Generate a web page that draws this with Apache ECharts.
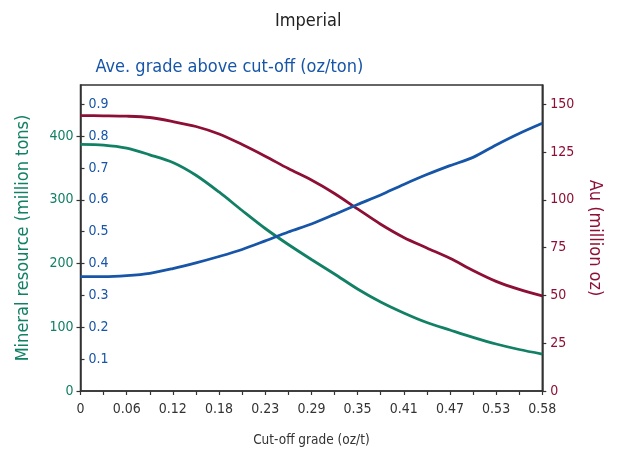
<!DOCTYPE html>
<html>
<head>
<meta charset="utf-8">
<script src="https://cdn.jsdelivr.net/npm/echarts@6/dist/echarts.min.js"></script>
<style>
html,body{margin:0;padding:0;background:#fff;}
#chart{width:619px;height:455px;}
</style>
</head>
<body>
<div id="chart"></div>
<script>
// Cut-off grade positions (oz/t), 21 steps; labels at every second one
const cutoffCategories = ['0','0.03','0.06','0.09','0.12','0.15','0.18','0.20','0.23','0.26','0.29','0.32','0.35','0.38','0.41','0.44','0.47','0.50','0.53','0.55','0.58'];
const xTickLabels = ['0','0.06','0.12','0.18','0.23','0.29','0.35','0.41','0.47','0.53','0.58'];
const tonsTicks = [0,100,200,300,400];
const gradeTicks = [0.1,0.2,0.3,0.4,0.5,0.6,0.7,0.8,0.9];
const auTicks = [0,25,50,75,100,125,150];

// Mineral resource (million tons)
const tonnage = [387,385.8,381,370.5,358.5,338.5,312.2,283.1,254.9,229.8,206.3,183.5,160,139.6,122.4,107.4,95.7,84.2,73.7,65.1,58];
// Au (million oz)
const gold = [144,143.9,143.7,143,140.9,138.3,134.4,128.9,122.8,116.3,110.3,103.3,95.2,87.2,80.3,74.8,69.4,63,57.3,53.1,49.7];
// Average grade above cut-off (oz/ton)
const avgGrade = [0.359,0.359,0.362,0.369,0.384,0.402,0.422,0.444,0.471,0.499,0.524,0.554,0.585,0.615,0.648,0.679,0.707,0.733,0.772,0.808,0.840];

const GREEN = '#118065';
const RED = '#8e0f36';
const BLUE = '#1655a8';
const DARK = '#333333';
const FONT = "'DejaVu Sans Condensed', 'Liberation Sans', sans-serif";

const chart = echarts.init(document.getElementById('chart'), null, {renderer: 'canvas'});
chart.setOption({
  animation: false,
  backgroundColor: '#fff',
  textStyle: {fontFamily: FONT},
  title: {
    text: 'Imperial',
    left: 270, top: 7,
    textStyle: {fontFamily: FONT, fontSize: 18, fontWeight: 'normal', color: '#222'}
  },
  grid: {
    left: 80.5, right: 76.7, top: 85, bottom: 64,
    show: true, borderColor: DARK, borderWidth: 1.5, backgroundColor: 'transparent'
  },
  xAxis: {
    type: 'category',
    data: cutoffCategories,
    boundaryGap: false,
    axisLine: {lineStyle: {color: DARK, width: 1.5}},
    axisTick: {interval: 0, length: 4, lineStyle: {color: DARK, width: 1.2}},
    axisLabel: {
      interval: 0, margin: 11, color: DARK, fontSize: 14, fontFamily: FONT,
      formatter: function (v, i) { return i % 2 === 0 ? xTickLabels[i / 2] : ''; }
    },
    splitLine: {show: false},
    name: 'Cut-off grade (oz/t)',
    nameLocation: 'middle',
    nameGap: 42,
    nameTextStyle: {color: DARK, fontSize: 13.5, fontFamily: FONT}
  },
  yAxis: [
    {
      type: 'value', position: 'left', min: 0, max: 480,
      axisLine: {show: true, lineStyle: {color: DARK, width: 1.5}},
      axisTick: {show: true, length: 4, customValues: tonsTicks, lineStyle: {color: DARK, width: 1.2}},
      axisLabel: {customValues: tonsTicks, color: GREEN, fontSize: 14, margin: 7, fontFamily: FONT},
      splitLine: {show: false},
      name: 'Mineral resource (million tons)',
      nameLocation: 'middle', nameRotate: 90, nameGap: 48,
      nameTextStyle: {color: GREEN, fontSize: 18, fontFamily: FONT}
    },
    {
      type: 'value', position: 'left', min: 0, max: 0.96,
      axisLine: {show: false},
      axisTick: {show: true, inside: true, length: 4, customValues: gradeTicks, lineStyle: {color: DARK, width: 1.2}},
      axisLabel: {inside: true, customValues: gradeTicks, color: BLUE, fontSize: 14, margin: 8, fontFamily: FONT,
        formatter: function (v) { return v.toFixed(1); }},
      splitLine: {show: false},
      name: 'Ave. grade above cut-off (oz/ton)',
      nameLocation: 'end', nameGap: 9,
      nameTextStyle: {color: BLUE, fontSize: 18, fontFamily: FONT, align: 'left', padding: [0, 0, 0, 15]}
    },
    {
      type: 'value', position: 'right', min: 0, max: 160,
      axisLine: {show: true, lineStyle: {color: DARK, width: 1.5}},
      axisTick: {show: true, length: 4, customValues: auTicks, lineStyle: {color: DARK, width: 1.2}},
      axisLabel: {customValues: auTicks, color: RED, fontSize: 14, margin: 8, fontFamily: FONT},
      splitLine: {show: false},
      name: 'Au (million oz)',
      nameLocation: 'middle', nameRotate: -90, nameGap: 40,
      nameTextStyle: {color: RED, fontSize: 18, fontFamily: FONT}
    }
  ],
  series: [
    {type: 'line', name: 'Mineral resource', yAxisIndex: 0, data: tonnage, smooth: 0.3, showSymbol: false,
      lineStyle: {color: GREEN, width: 2.8}, z: 3},
    {type: 'line', name: 'Au', yAxisIndex: 2, data: gold, smooth: 0.3, showSymbol: false,
      lineStyle: {color: RED, width: 2.8}, z: 3},
    {type: 'line', name: 'Ave. grade', yAxisIndex: 1, data: avgGrade, smooth: 0.3, showSymbol: false,
      lineStyle: {color: BLUE, width: 2.8}, z: 4}
  ]
});
</script>
</body>
</html>
